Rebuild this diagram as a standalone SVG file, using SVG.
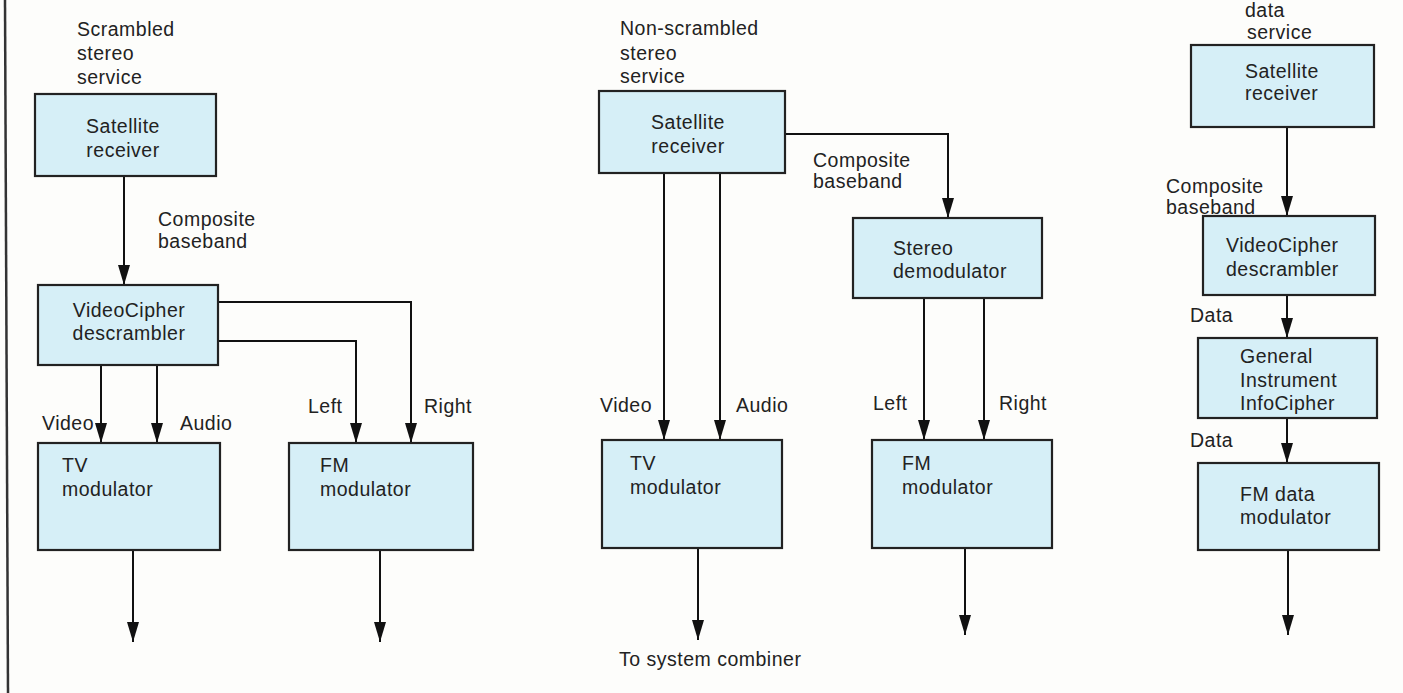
<svg xmlns="http://www.w3.org/2000/svg" width="1403" height="693" viewBox="0 0 1403 693">
<style>
text{font-family:"Liberation Sans",Arial,sans-serif;font-size:19.5px;fill:#222;letter-spacing:0.5px}
.c{text-anchor:middle}
.box{fill:#d6eff7;stroke:#222;stroke-width:2.2}
.ln{fill:none;stroke:#111;stroke-width:2}
</style>
<defs>
<marker id="ah" viewBox="0 0 20 12" refX="20" refY="6" markerWidth="20" markerHeight="12" markerUnits="userSpaceOnUse" orient="auto">
<path d="M0,0 L20,6 L0,12 Z" fill="#111"/>
</marker>
</defs>
<rect x="0" y="0" width="1403" height="693" fill="#fdfdfb"/>
<line x1="5" y1="0" x2="8" y2="693" stroke="#333" stroke-width="2.5"/>

<g id="connectors">
<path class="ln" d="M124,176 V285" marker-end="url(#ah)"/>
<path class="ln" d="M218,302 H411 V443" marker-end="url(#ah)"/>
<path class="ln" d="M218,341 H356 V443" marker-end="url(#ah)"/>
<path class="ln" d="M101,365 V443" marker-end="url(#ah)"/>
<path class="ln" d="M157,365 V443" marker-end="url(#ah)"/>
<path class="ln" d="M133,550 V642" marker-end="url(#ah)"/>
<path class="ln" d="M380,550 V642" marker-end="url(#ah)"/>

<path class="ln" d="M664,173 V440" marker-end="url(#ah)"/>
<path class="ln" d="M720,173 V440" marker-end="url(#ah)"/>
<path class="ln" d="M785,134 H948 V218" marker-end="url(#ah)"/>
<path class="ln" d="M924,298 V440" marker-end="url(#ah)"/>
<path class="ln" d="M984,298 V440" marker-end="url(#ah)"/>
<path class="ln" d="M698,548 V640" marker-end="url(#ah)"/>
<path class="ln" d="M965,548 V635" marker-end="url(#ah)"/>

<path class="ln" d="M1287,127 V216" marker-end="url(#ah)"/>
<path class="ln" d="M1287,295 V338" marker-end="url(#ah)"/>
<path class="ln" d="M1287,418 V463" marker-end="url(#ah)"/>
<path class="ln" d="M1288,550 V635" marker-end="url(#ah)"/>
</g>

<g id="labels">
<text x="77" y="36">Scrambled</text>
<text x="77" y="60">stereo</text>
<text x="77" y="84">service</text>
<text x="158" y="226">Composite</text>
<text x="158" y="248">baseband</text>
<text x="42" y="430">Video</text>
<text x="180" y="430">Audio</text>
<text x="308" y="413">Left</text>
<text x="424" y="413">Right</text>

<text x="620" y="35">Non-scrambled</text>
<text x="620" y="60">stereo</text>
<text x="620" y="83">service</text>
<text x="813" y="167">Composite</text>
<text x="813" y="188">baseband</text>
<text x="600" y="412">Video</text>
<text x="736" y="412">Audio</text>
<text x="873" y="410">Left</text>
<text x="999" y="410">Right</text>
<text x="619" y="666">To system combiner</text>

<text x="1245" y="17">data</text>
<text x="1247" y="39">service</text>
<text x="1166" y="193">Composite</text>
<text x="1166" y="214">baseband</text>
<text x="1190" y="322">Data</text>
<text x="1190" y="447">Data</text>
</g>

<g id="sat1"><rect class="box" x="35" y="94" width="181" height="82"/>
<text class="c" x="123" y="133">Satellite</text><text class="c" x="123" y="157">receiver</text></g>
<g id="vc1"><rect class="box" x="38" y="285" width="180" height="80"/>
<text class="c" x="129" y="317">VideoCipher</text><text class="c" x="129" y="340">descrambler</text></g>
<g id="tv1"><rect class="box" x="38" y="443" width="182" height="107"/>
<text x="62" y="472">TV</text><text x="62" y="496">modulator</text></g>
<g id="fm1"><rect class="box" x="289" y="443" width="184" height="107"/>
<text x="320" y="472">FM</text><text x="320" y="496">modulator</text></g>

<g id="sat2"><rect class="box" x="599" y="91" width="186" height="82"/>
<text class="c" x="688" y="129">Satellite</text><text class="c" x="688" y="153">receiver</text></g>
<g id="stereo2"><rect class="box" x="853" y="218" width="189" height="80"/>
<text x="893" y="255">Stereo</text><text x="893" y="278">demodulator</text></g>
<g id="tv2"><rect class="box" x="602" y="440" width="180" height="108"/>
<text x="630" y="470">TV</text><text x="630" y="494">modulator</text></g>
<g id="fm2"><rect class="box" x="872" y="440" width="180" height="108"/>
<text x="902" y="470">FM</text><text x="902" y="494">modulator</text></g>

<g id="sat3"><rect class="box" x="1191" y="45" width="183" height="82"/>
<text x="1245" y="78">Satellite</text><text x="1245" y="100">receiver</text></g>
<g id="vc3"><rect class="box" x="1203" y="216" width="172" height="79"/>
<text x="1226" y="252">VideoCipher</text><text x="1226" y="276">descrambler</text></g>
<g id="gi3"><rect class="box" x="1198" y="338" width="179" height="80"/>
<text x="1240" y="363">General</text><text x="1240" y="387">Instrument</text><text x="1240" y="410">InfoCipher</text></g>
<g id="fmd3"><rect class="box" x="1198" y="463" width="181" height="87"/>
<text x="1240" y="501">FM data</text><text x="1240" y="524">modulator</text></g>
</svg>
